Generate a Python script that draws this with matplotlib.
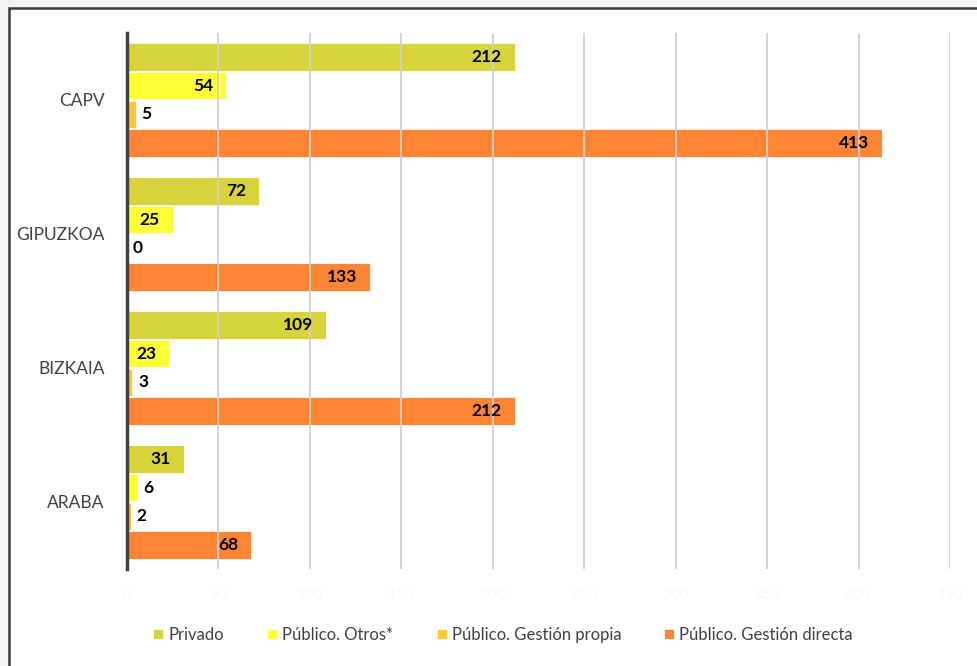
import numpy as np
import matplotlib.pyplot as plt
from matplotlib.patches import Rectangle

# Data (bottom to top)
regions = ['ARABA', 'BIZKAIA', 'GIPUZKOA', 'CAPV']
privado = [31, 109, 72, 212]
otros = [6, 23, 25, 54]
propia = [2, 3, 0, 5]
directa = [68, 212, 133, 413]

series_names = ['Privado', 'Público. Otros*', 'Público. Gestión propia', 'Público. Gestión directa']
series_vals = [privado, otros, propia, directa]
colors = ['#d4d12a', '#ffff24', '#ffc125', '#ff7b24']
ticks = np.arange(0, 451, 50)

plt.rcParams['font.family'] = ['Lato', 'DejaVu Sans']

fig = plt.figure(figsize=(9.77, 6.66), dpi=100)
fig.patch.set_facecolor('#f3f3f3')
# white panel with dark border (top and left visible)
panel = Rectangle((9 / 977, -0.1), 1.2, 1 - 8 / 666 + 0.1, transform=fig.transFigure,
                  facecolor='white', edgecolor='#3a3a3a', linewidth=1.8, zorder=-1)
fig.patches.append(panel)

ax = fig.add_axes([127 / 977, 1 - 569 / 666, (950 - 127) / 977, (569 - 33) / 666])
ax.set_facecolor('none')

y = np.arange(len(regions))
step = 0.214
offsets = [1.5 * step, 0.5 * step, -0.5 * step, -1.5 * step]

for name, vals, col, off in zip(series_names, series_vals, colors, offsets):
    bars = ax.barh(y + off, vals, height=0.205, color=col, alpha=0.92,
                   edgecolor='white', linewidth=0.6, label=name, zorder=2)
    for b, v in zip(bars, vals):
        cy = b.get_y() + b.get_height() / 2
        if v >= 20:
            ax.text(v - 7, cy, str(v), ha='right', va='center', fontsize=12.5,
                    fontweight='bold', color='black', zorder=4)
        else:
            ax.text(v + 3, cy, str(v), ha='left', va='center', fontsize=12.5,
                    fontweight='bold', color='black', zorder=4)

ax.set_xlim(0, 450)
ax.set_ylim(-0.5, 3.5)
ax.set_xticks(ticks)
ax.set_xticklabels([str(t) for t in ticks], color='#f8f8f8', fontsize=11)
ax.set_yticks(y)
ax.set_yticklabels(regions, fontsize=12.5, color='#404040')
ax.tick_params(axis='y', length=0, pad=16)
ax.tick_params(axis='x', length=0, pad=14)
ax.grid(axis='x', color='#d0d0d0', linewidth=1.3, zorder=3)
ax.set_axisbelow(False)
for s in ['top', 'right', 'bottom']:
    ax.spines[s].set_visible(False)
ax.spines['left'].set_color('#404040')
ax.spines['left'].set_linewidth(2.5)
ax.spines['left'].set_zorder(5)

fig.legend(loc='center', bbox_to_anchor=(0.515, 1 - 635 / 666), ncol=4, frameon=False,
           fontsize=12, handlelength=0.6, handleheight=0.6, handletextpad=0.3,
           columnspacing=2.6, labelcolor='#404040')

fig.savefig('out.png', dpi=100, facecolor=fig.get_facecolor())
